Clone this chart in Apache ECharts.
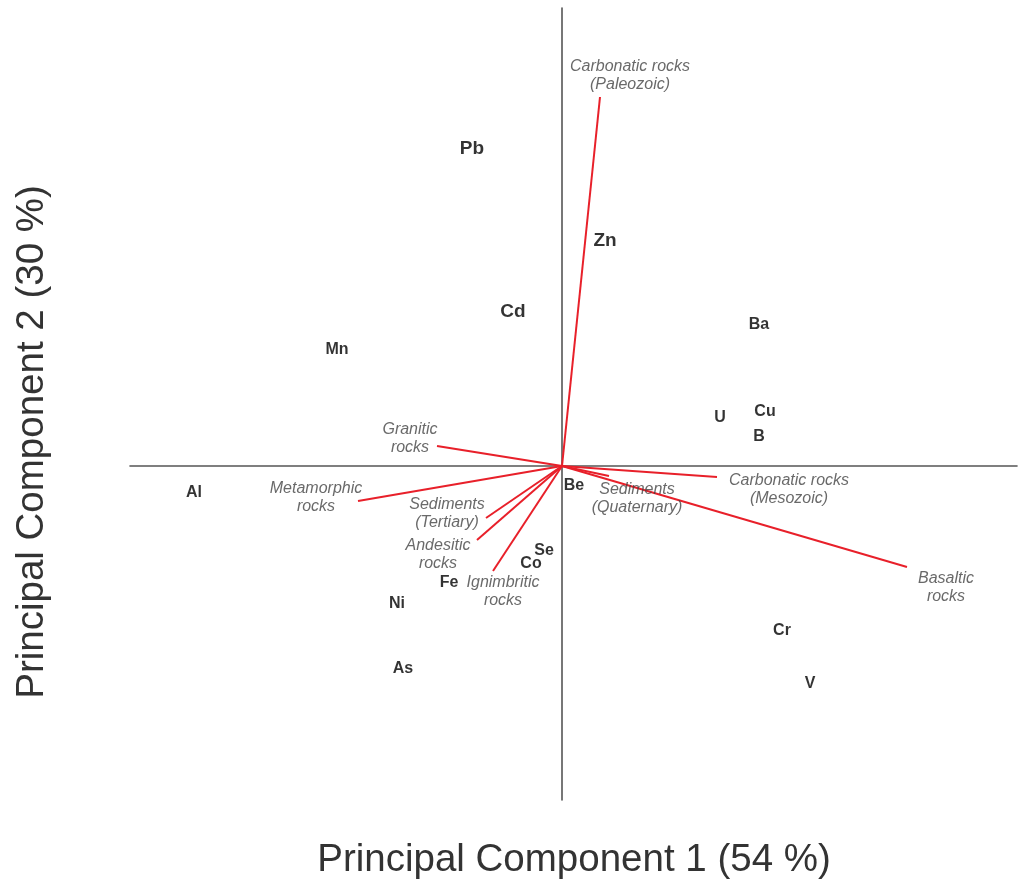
<!DOCTYPE html>
<html>
<head>
<meta charset="utf-8">
<script src="https://cdn.jsdelivr.net/npm/echarts@6/dist/echarts.min.js"></script>
<style>
html,body{margin:0;padding:0;background:#fff;}
#chart{width:1021px;height:885px;}
</style>
</head>
<body>
<div id="chart"></div>
<script>
// Element scores (PC1, PC2)
const elements = ['Pb','Zn','Cd','Mn','Ba','U','Cu','B','Al','Be','Se','Co','Fe','Ni','As','Cr','V'];
const elemPC1 = [-0.90, 0.43, -0.49, -2.25, 1.97, 1.58, 2.03, 1.97, -3.68, 0.12, -0.18, -0.31, -1.13, -1.65, -1.59, 2.20, 2.48];
const elemPC2 = [3.17, 2.25, 1.54, 1.16, 1.41, 0.48, 0.54, 0.29, -0.27, -0.20, -0.85, -0.98, -1.17, -1.38, -2.03, -1.65, -2.18];
const elemLarge = ['Pb','Zn','Cd'];

// Rock type loadings (vector end points)
const rocks = ['Carbonatic rocks\n(Paleozoic)','Granitic\nrocks','Metamorphic\nrocks','Sediments\n(Tertiary)','Andesitic\nrocks','Ignimbritic\nrocks','Sediments\n(Quaternary)','Carbonatic rocks\n(Mesozoic)','Basaltic\nrocks'];
const rockPC1 = [0.38, -1.25, -2.04, -0.76, -0.85, -0.69, 0.47, 1.55, 3.45];
const rockPC2 = [3.69, 0.20, -0.35, -0.52, -0.74, -1.05, -0.10, -0.11, -1.01];
// Label anchor for each rock vector
const rockLabPC1 = [0.68, -1.52, -2.46, -1.15, -1.24, -0.59, 0.75, 2.27, 3.84];
const rockLabPC2 = [3.90, 0.27, -0.32, -0.48, -0.89, -1.26, -0.33, -0.24, -1.22];

const chart = echarts.init(document.getElementById('chart'));

const elemData = elements.map((n, i) => ({
  name: n,
  value: [elemPC1[i], elemPC2[i]],
  label: { fontSize: elemLarge.includes(n) ? 19 : 16 }
}));
const vecData = rocks.map((n, i) => ({ coords: [[0, 0], [rockPC1[i], rockPC2[i]]] }));
const rockLabData = rocks.map((n, i) => ({ name: n, value: [rockLabPC1[i], rockLabPC2[i]] }));

chart.setOption({
  animation: false,
  backgroundColor: '#ffffff',
  grid: { left: 130, right: 4, top: 8, bottom: 85 },
  xAxis: {
    type: 'value', min: -4.32, max: 4.55,
    axisLine: { show: true, onZero: true, lineStyle: { color: '#555', width: 1.6 } },
    axisTick: { show: false }, axisLabel: { show: false }, splitLine: { show: false }
  },
  yAxis: {
    type: 'value', min: -3.34, max: 4.58,
    axisLine: { show: true, onZero: true, lineStyle: { color: '#555', width: 1.6 } },
    axisTick: { show: false }, axisLabel: { show: false }, splitLine: { show: false }
  },
  graphic: [
    { type: 'text', x: 574, y: 860,
      style: { text: 'Principal Component 1 (54 %)', font: '38.5px "Liberation Sans", Arial, sans-serif', fill: '#333', align: 'center', verticalAlign: 'middle' } },
    { type: 'text', x: 32, y: 442, rotation: Math.PI / 2,
      style: { text: 'Principal Component 2 (30 %)', font: '38.5px "Liberation Sans", Arial, sans-serif', fill: '#333', align: 'center', verticalAlign: 'middle' } }
  ],
  series: [
    {
      type: 'lines', coordinateSystem: 'cartesian2d', silent: true,
      lineStyle: { color: '#e8202a', width: 2, opacity: 1, curveness: 0 },
      data: vecData, z: 3
    },
    {
      type: 'scatter', symbolSize: 1, itemStyle: { color: 'rgba(0,0,0,0)' }, silent: true,
      label: { show: true, position: 'inside', formatter: '{b}', color: '#000', fontWeight: 'bold',
        fontFamily: '"Liberation Sans", Arial, sans-serif', fontSize: 16 },
      data: elemData, z: 4
    },
    {
      type: 'scatter', symbolSize: 1, itemStyle: { color: 'rgba(0,0,0,0)' }, silent: true,
      label: { show: true, position: 'inside', formatter: '{b}', color: '#444', fontStyle: 'italic',
        fontFamily: '"Liberation Sans", Arial, sans-serif', fontSize: 16, lineHeight: 18, align: 'center' },
      data: rockLabData, z: 4
    }
  ]
});
</script>
</body>
</html>
